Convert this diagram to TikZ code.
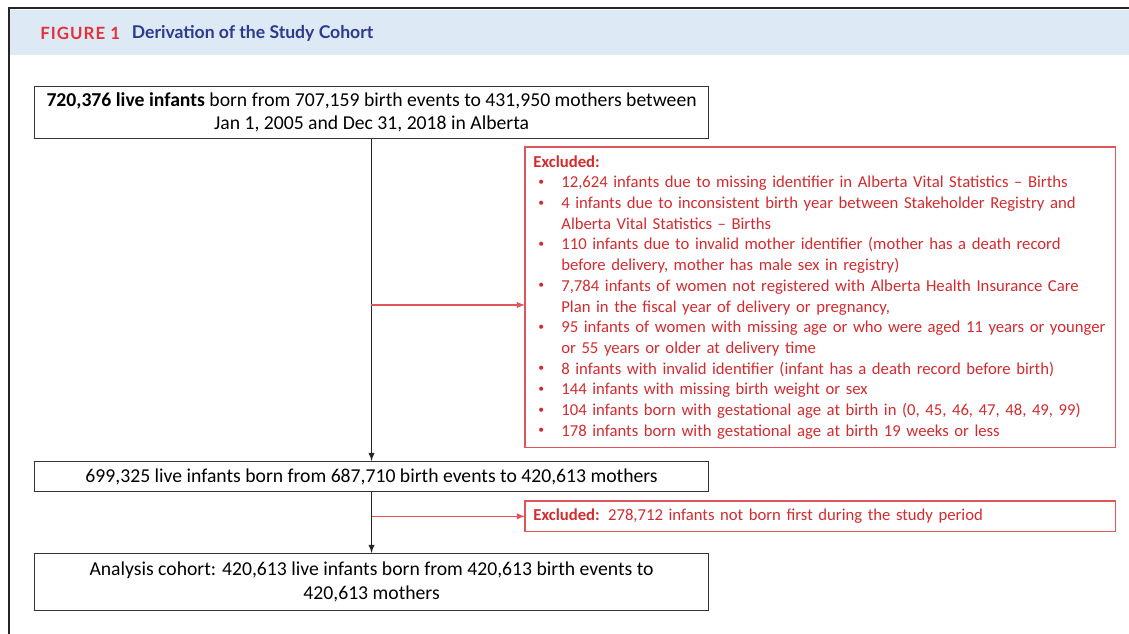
\documentclass[tikz,border=0pt]{standalone}
\usepackage{fontspec}
\setmainfont{Carlito}
\newfontfamily\figfont[LetterSpace=6]{Lato}
\newfontfamily\titlefont{Lato}
\usepackage{xcolor}
\usetikzlibrary{positioning,arrows}

\definecolor{hdblue}{HTML}{DDE9F5}
\definecolor{figred}{HTML}{E5303A}
\definecolor{ttblue}{HTML}{2E3A8C}
\definecolor{exline}{HTML}{E0555B}
\definecolor{extext}{HTML}{D42A2E}

\newcommand{\bul}{\hspace*{0.1cm}\makebox[0.46cm][l]{\raisebox{0.3ex}{\scalebox{0.7}{\textbullet}}}}
\newcommand{\cont}{\hspace*{0.56cm}}

\begin{document}
\begin{tikzpicture}[x=0.02cm, y=-0.02cm,
    stepbox/.style={draw=black!80, line width=0.7pt, minimum width=13.48cm, align=center,
      font=\fontsize{11.2}{13.2}\selectfont, anchor=north west},
    exclbox/.style={text=extext, align=left,
      inner xsep=0.16cm, text width=11.48cm, anchor=north west,
      font=\fontsize{9.5}{11.78}\selectfont},
    exframe/.style={draw=exline, line width=0.8pt},
    flow/.style={-latex, black!85, line width=0.6pt},
    exflow/.style={-latex, exline, line width=0.6pt}]
  \useasboundingbox (0,0) rectangle (1129,634);
  % frame and title band
  \fill[hdblue] (10,10) rectangle (1129,55);
  \draw[black!85, line width=1.1pt] (9,634) -- (9,8) -- (1129,8);
  \node[anchor=west, inner xsep=0pt, text=figred, font=\fontsize{9.6}{11}\selectfont\figfont\bfseries] (fig) at (40,33) {FIGURE 1};
  \node[right=0.22cm of fig, inner xsep=0pt, text=ttblue, font=\fontsize{10}{11}\selectfont\titlefont\bfseries] (title) {Derivation of the Study Cohort};

  % flow boxes
  \node[stepbox, minimum height=1.04cm] (total) at (34,86)
    {\textbf{720,376 live infants} born from 707,159 birth events to 431,950 mothers between\\
     Jan 1, 2005 and Dec 31, 2018 in Alberta};
  \node[stepbox, minimum height=0.6cm] (remain) at (34,461)
    {699,325 live infants born from 687,710 birth events to 420,613 mothers};
  \node[stepbox, minimum height=1.14cm, font=\fontsize{11.2}{13.8}\selectfont] (cohort) at (34,553)
    {Analysis cohort: 420,613 live infants born from 420,613 birth events to\\
     420,613 mothers};

  % exclusions
  \node[exclbox, minimum height=6cm] (excl) at (525,147)
    {\textbf{Excluded:}\\
     \bul 12,624 infants due to missing identifier in Alberta Vital Statistics -- Births\\
     \bul 4 infants due to inconsistent birth year between Stakeholder Registry and\\
     \cont Alberta Vital Statistics -- Births\\
     \bul 110 infants due to invalid mother identifier (mother has a death record\\
     \cont before delivery, mother has male sex in registry)\\
     \bul 7,784 infants of women not registered with Alberta Health Insurance Care\\
     \cont Plan in the fiscal year of delivery or pregnancy,\\
     \bul 95 infants of women with missing age or who were aged 11 years or younger\\
     \cont or 55 years or older at delivery time\\
     \bul 8 infants with invalid identifier (infant has a death record before birth)\\
     \bul 144 infants with missing birth weight or sex\\
     \bul 104 infants born with gestational age at birth in (0, 45, 46, 47, 48, 49, 99)\\
     \bul 178 infants born with gestational age at birth 19 weeks or less};
  \node[exclbox, minimum height=0.6cm] (notfirst) at (525,501)
    {\textbf{Excluded:} 278,712 infants not born first during the study period};
  \draw[exframe] (excl.north west) rectangle (excl.south east);
  \draw[exframe] (notfirst.north west) rectangle (notfirst.south east);

  % connectors
  \coordinate (split1) at (371,305);
  \coordinate (split2) at (remain.south |- notfirst.west);
  \draw[flow] (total.south) -- (remain.north);
  \draw[flow] (remain.south) -- (cohort.north);
  \draw[exflow] (split1) -- (split1 -| excl.west);
  \draw[exflow] (split2) -- (notfirst.west);
\end{tikzpicture}
\end{document}
